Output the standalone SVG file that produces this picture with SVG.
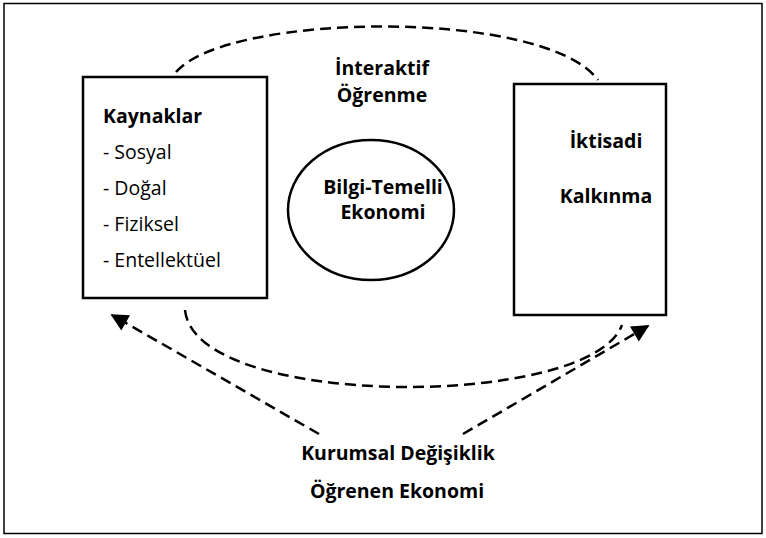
<svg xmlns="http://www.w3.org/2000/svg" width="766" height="538" viewBox="0 0 766 538">
<defs>
<style>
.frame{fill:#fff;stroke:#000;stroke-width:1.5}
.box{fill:#fff;stroke:#000;stroke-width:2.5}
.dash{fill:none;stroke:#000;stroke-width:2.5;stroke-dasharray:11 6}
.b{font-family:"Open Sans","Noto Sans",sans-serif;font-weight:700;font-size:19.5px;fill:#000}
.r{font-family:"Open Sans","Noto Sans",sans-serif;font-weight:400;font-size:19.5px;fill:#000}
.m{text-anchor:middle}
</style>
<marker id="ah" viewBox="0 0 10 10" refX="9" refY="5" markerWidth="8" markerHeight="7" markerUnits="strokeWidth" orient="auto">
<path d="M0,0 L10,5 L0,10 z" fill="#000"/>
</marker>
</defs>
<rect class="frame" x="4" y="3.5" width="758" height="530"/>
<g id="connectors">
<path class="dash" d="M176,72 C228,12 545,8 598,80"/>
<path class="dash" d="M185,310 C195,410 590,410 622,325"/>
<path class="dash" d="M319,434 L112,315" marker-end="url(#ah)"/>
<path class="dash" d="M463,434 L648,326" marker-end="url(#ah)"/>
</g>
<g id="kaynaklar">
<rect class="box" x="83" y="77" width="184" height="221"/>
<text class="b" x="103" y="123">Kaynaklar</text>
<text class="r" x="103" y="159">- Sosyal</text>
<text class="r" x="103" y="195">- Doğal</text>
<text class="r" x="103" y="231">- Fiziksel</text>
<text class="r" x="103" y="267">- Entellektüel</text>
</g>
<g id="kalkinma">
<rect class="box" x="514" y="84" width="152" height="231"/>
<text class="b m" x="606" y="148">İktisadi</text>
<text class="b m" x="606" y="203">Kalkınma</text>
</g>
<g id="bilgi">
<ellipse class="box" cx="371" cy="210" rx="83" ry="70"/>
<text class="b m" x="383" y="194">Bilgi-Temelli</text>
<text class="b m" x="383" y="219">Ekonomi</text>
</g>
<g id="interaktif">
<text class="b m" x="382" y="75">İnteraktif</text>
<text class="b m" x="382" y="102">Öğrenme</text>
</g>
<g id="kurumsal">
<text class="b m" x="398" y="460">Kurumsal Değişiklik</text>
</g>
<g id="ogrenen">
<text class="b m" x="397" y="498">Öğrenen Ekonomi</text>
</g>
</svg>
